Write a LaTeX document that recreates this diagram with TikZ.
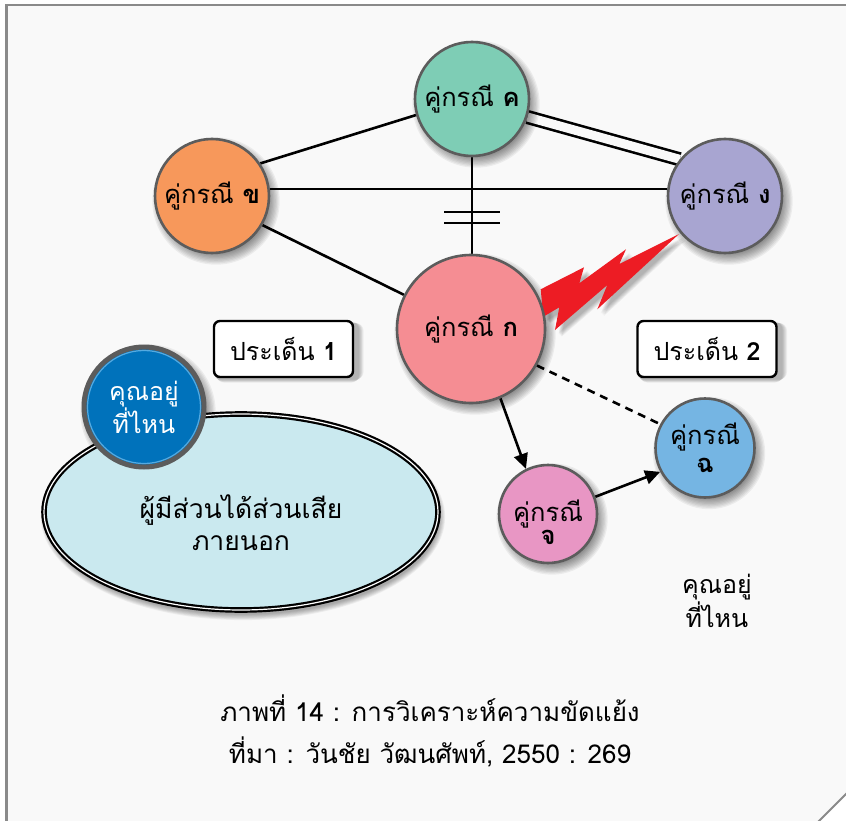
\documentclass[tikz,border=0pt]{standalone}
\usepackage{fontspec}
\newfontfamily\thaifont[Script=Thai]{Loma}
\usetikzlibrary{shapes.geometric, arrows.meta, calc}

\definecolor{pagebg}{HTML}{F9F9F9}
\definecolor{framegray}{HTML}{8A8A8A}
\definecolor{circgray}{HTML}{5C5C5C}
\definecolor{colA}{HTML}{F58D93}
\definecolor{colB}{HTML}{F7985B}
\definecolor{colC}{HTML}{7ECDB5}
\definecolor{colD}{HTML}{A8A5D1}
\definecolor{colE}{HTML}{E896C4}
\definecolor{colF}{HTML}{75B5E3}
\definecolor{blueC}{HTML}{0072BB}
\definecolor{blueRing}{HTML}{55AAE0}
\definecolor{ellfill}{HTML}{CAE9EF}
\definecolor{boltred}{HTML}{ED1C24}

\pgfdeclarelayer{page}
\pgfdeclarelayer{links}
\pgfsetlayers{page,links,main}

% soft drop shadow under a round node: name, radius
\newcommand\roundshadow[2]{%
  \foreach \k in {1,...,9}{%
    \fill[black, opacity=0.055] ([shift={(4pt,-5pt)}]#1.center) circle ({#2+7pt-\k*1.3pt});}}
% the conflict bolt as one filled outline
\newcommand\boltfill[1]{%
  \fill[#1] (540.7,289.3) -- (584,267.3) -- (579.3,283.3)
     -- (626,249.3) -- (619.3,264) -- (679,234) -- (597.3,309.3)
     -- (607.3,285) -- (555,330) -- (559.3,307.3) -- (543.3,316.7) -- cycle;}

\begin{document}
\begin{tikzpicture}[x=1pt, y=-1pt,
  party/.style={circle, draw=circgray, line width=2.6pt, minimum size=#1,
      inner sep=0pt, align=center,
      font=\thaifont\fontsize{25.5}{28}\selectfont},
  issue/.style={rectangle, rounded corners=6pt, draw=black, line width=2.4pt,
      fill=white, minimum width=139pt, minimum height=56pt,
      font=\thaifont\fontsize{25}{28}\selectfont},
  link/.style={line width=2.6pt},
  arrowlink/.style={link, -{Triangle[length=15pt, width=14pt]}},
  plain/.style={font=\thaifont\fontsize{25}{34}\selectfont, align=center},
  caption/.style={font=\thaifont\fontsize{26}{30}\selectfont}
]
\useasboundingbox (0,0) rectangle (846,821);

% page with a cut corner
\begin{pgfonlayer}{page}
  \fill[white] (0,0) rectangle (846,821);
  \fill[pagebg] (6.5,5) -- (846,5) -- (846,794) -- (819,821) -- (6.5,821) -- cycle;
  \draw[framegray, line width=2.6pt] (6.5,823) -- (6.5,5) -- (848,5);
  \draw[framegray, line width=2pt] (818,822) -- (847,793);
\end{pgfonlayer}

% parties
\node[party=114pt, fill=colC] (c) at (472,99)  {คู่กรณี \textbf{ค}};
\node[party=114pt, fill=colB] (b) at (212,196) {คู่กรณี \textbf{ข}};
\node[party=114pt, fill=colD] (d) at (725,196) {คู่กรณี \textbf{ง}};
\node[party=148pt, fill=colA] (a) at (471,329) {คู่กรณี \textbf{ก}};
\node[party=98pt,  fill=colE,
      label={[yshift=-8pt, align=center, font=\thaifont\fontsize{25.5}{23}\selectfont]center:{คู่กรณี\\\textbf{จ}}}]
      (e) at (548,514) {};
\node[party=99pt,  fill=colF] (f) at (705,448)
      {\fontsize{25.5}{23}\selectfont คู่กรณี\\\textbf{ฉ}};

% outside stakeholders
\node[ellipse, minimum width=394pt, minimum height=196pt, fill=ellfill,
      draw=black, double=white, double distance=1.2pt, line width=2.2pt,
      label={[yshift=-11pt, plain, font=\thaifont\fontsize{26.5}{32}\selectfont]center:{ผู้มีส่วนได้ส่วนเสีย\\ภายนอก}}]
      (outside) at (241,512) {};
\node[circle, fill=blueC, draw=circgray, line width=5pt, minimum size=120pt,
      inner sep=0pt] (where) at (144,407) {};
\draw[blueRing, line width=1.2pt] (where.center) circle (56.5pt);
\node[plain, text=white, font=\thaifont\fontsize{25}{31}\selectfont]
      (whereT) at (where.center) {คุณอยู่\\ที่ไหน};

% issues
\node[issue] (i1) at (283.5,349) {ประเด็น \textbf{1}};
\node[issue] (i2) at (707,349)   {ประเด็น \textbf{2}};

\node[plain] (where2) at (717,601) {คุณอยู่\\ที่ไหน};

% caption
\node[caption] (cap1) at (430,708) {ภาพที่ 14 : การวิเคราะห์ความขัดแย้ง};
\node[caption] (cap2) at (430,752) {ที่มา : วันชัย วัฒนศัพท์, 2550 : 269};

% relations and shadows, kept under the nodes
\begin{pgfonlayer}{links}
  \draw[link] (b.34) -- (c.196);
  \draw[link] (b.7) -- (d.173);
  \draw[link] (b.-30) -- (a.153);
  \draw[link, double=pagebg, double distance=9pt] (c.-18) -- (d.141);
  \draw[link] (c.south) -- (c.south |- a.north)
     coordinate[pos=0.567] (m1) coordinate[pos=0.68] (m2);
  \draw[link] ([xshift=-28pt]m1) -- ([xshift=28pt]m1);
  \draw[link] ([xshift=-28pt]m2) -- ([xshift=28pt]m2);
  \draw[link, dash pattern=on 8pt off 6pt] (a.-29) -- (f.152);
  \draw[arrowlink] (a.-67) -- (e.116);
  \draw[arrowlink] (e.20) -- (f.208);

  \roundshadow{c}{58pt}
  \roundshadow{b}{58pt}
  \roundshadow{d}{58pt}
  \roundshadow{a}{75pt}
  \roundshadow{e}{50pt}
  \roundshadow{f}{50.5pt}
  \roundshadow{where}{62pt}
  \foreach \k in {1,...,7}{%
    \fill[black, opacity=0.05] ([shift={(2pt,-5pt)}]outside.center)
      ellipse ({203pt-\k*0.9pt} and {104pt-\k*0.9pt});}
  \foreach \k in {1,...,6}{%
    \fill[black, opacity=0.05, rounded corners=8pt]
      ([shift={(4pt-\k*0.6pt,-5pt+\k*0.6pt)}]i1.south west) rectangle
      ([shift={(4pt+\k*0.9pt,-2pt-\k*0.2pt)}]i1.north east);
    \fill[black, opacity=0.05, rounded corners=8pt]
      ([shift={(4pt-\k*0.6pt,-5pt+\k*0.6pt)}]i2.south west) rectangle
      ([shift={(4pt+\k*0.9pt,-2pt-\k*0.2pt)}]i2.north east);}

  % conflict bolt between ก and ง
  \foreach \k in {1,...,6}{%
    \boltfill{black, opacity=0.05, shift={(3pt+\k*0.6pt,-3pt-\k*0.6pt)}}}
  \boltfill{boltred}
\end{pgfonlayer}
\end{tikzpicture}
\end{document}
